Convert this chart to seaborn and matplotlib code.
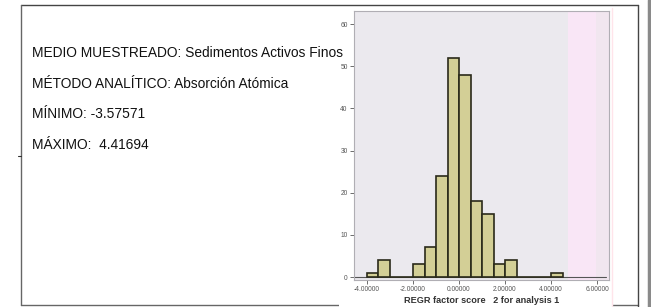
import matplotlib
matplotlib.use("Agg")
import matplotlib.pyplot as plt
from matplotlib.patches import Rectangle
from matplotlib.lines import Line2D
import seaborn as sns
import numpy as np

# ---- data ----
bin_edges = [-4.0, -3.5, -3.0, -2.5, -2.0, -1.5, -1.0, -0.5, 0.0, 0.5, 1.0,
             1.5, 2.0, 2.5, 3.0, 3.5, 4.0, 4.5]
counts = [1, 4, 0, 0, 3, 7, 24, 52, 48, 18, 15, 3, 4, 0, 0, 0, 1]
x_ticks = [-4, -2, 0, 2, 4, 6]
x_tick_labels = ["-4.00000", "-2.00000", "0.00000", "2.00000", "4.00000", "6.00000"]
y_ticks = [0, 10, 20, 30, 40, 50, 60]
info_lines = ["MEDIO MUESTREADO: Sedimentos Activos Finos",
              "MÉTODO ANALÍTICO: Absorción Atómica",
              "MÍNIMO: -3.57571",
              "MÁXIMO:  4.41694"]
x_label = "REGR factor score   2 for analysis 1"

sns.set_style("white")
plt.rcParams['font.family'] = ['Liberation Sans', 'DejaVu Sans']

W, H = 651, 307
fig = plt.figure(figsize=(W / 100, H / 100), dpi=100)
fig.patch.set_facecolor("white")

def fx(px):
    return px / W

def fy(py):
    return 1 - py / H

# outer document box
box_col = "#444444"
fig.add_artist(Line2D([fx(21), fx(638)], [fy(5), fy(5)], color=box_col, lw=1.0))
fig.add_artist(Line2D([fx(21), fx(21)], [fy(5), fy(305)], color="#666666", lw=1.0))
fig.add_artist(Line2D([fx(21), fx(638)], [fy(305), fy(305)], color="#666666", lw=1.0))
fig.add_artist(Line2D([fx(638), fx(638)], [fy(5), fy(307)], color=box_col, lw=1.0))
fig.add_artist(Line2D([fx(648.5), fx(648.5)], [fy(0), fy(307)], color="#8a8a8a", lw=2.5))
fig.add_artist(Line2D([fx(18), fx(21)], [fy(156), fy(156)], color="#333333", lw=0.8))

# info text
ys = [53, 84, 114, 145]
for t, yy in zip(info_lines, ys):
    fig.text(fx(32), fy(yy), t, fontsize=9.95, color="#111111", va="center", ha="left")

# embedded picture background (covers text and bottom border)
fig.add_artist(Rectangle((fx(339), fy(307)), fx(612 - 339), fy(7) - fy(307),
                         transform=fig.transFigure, facecolor="white",
                         edgecolor="none", zorder=2))
fig.add_artist(Line2D([fx(612), fx(612)], [fy(8), fy(307)], color="#ffe4ea", lw=1.0, zorder=3))

# histogram axes
ax = fig.add_axes([fx(354), fy(280), fx(609 - 354), fy(11) - fy(280)], zorder=4)
ax.set_facecolor("#ebe9ee")
ax.add_patch(Rectangle((0.839, 0), 0.11, 1, transform=ax.transAxes,
                       facecolor="#f9e6f6", edgecolor="none", zorder=0))
ax.add_patch(Rectangle((0.949, 0), 0.051, 1, transform=ax.transAxes,
                       facecolor="#f1e6ef", edgecolor="none", zorder=0))

centers = [(a + b) / 2 for a, b in zip(bin_edges[:-1], bin_edges[1:])]
sns.histplot(x=centers, weights=counts, bins=bin_edges, ax=ax,
             color="#d3cf96", edgecolor="#2a2a1a", linewidth=1.2, alpha=1.0,
             zorder=2)

ax.set_xlim(-4.565, 6.52)
ax.set_ylim(-0.71, 63.1)
ax.axhline(0, color="#555555", lw=0.8, xmin=0.0, xmax=0.99, zorder=1)
ax.set_xticks(x_ticks)
ax.set_xticklabels(x_tick_labels)
ax.set_yticks(y_ticks)
ax.set_yticklabels([str(v) for v in y_ticks])
ax.tick_params(axis="both", labelsize=4.8, colors="#555555", length=3, width=0.6, pad=1.5,
               direction="out", bottom=True, left=True)
for sp in ax.spines.values():
    sp.set_color("#b0aeb4")
    sp.set_linewidth(0.8)
ax.set_xlabel(x_label, fontsize=6.6, fontweight="bold", color="#333333", labelpad=2.0)
ax.set_ylabel("")
ax.grid(False)

fig.savefig("out.png", dpi=100, facecolor="white")
